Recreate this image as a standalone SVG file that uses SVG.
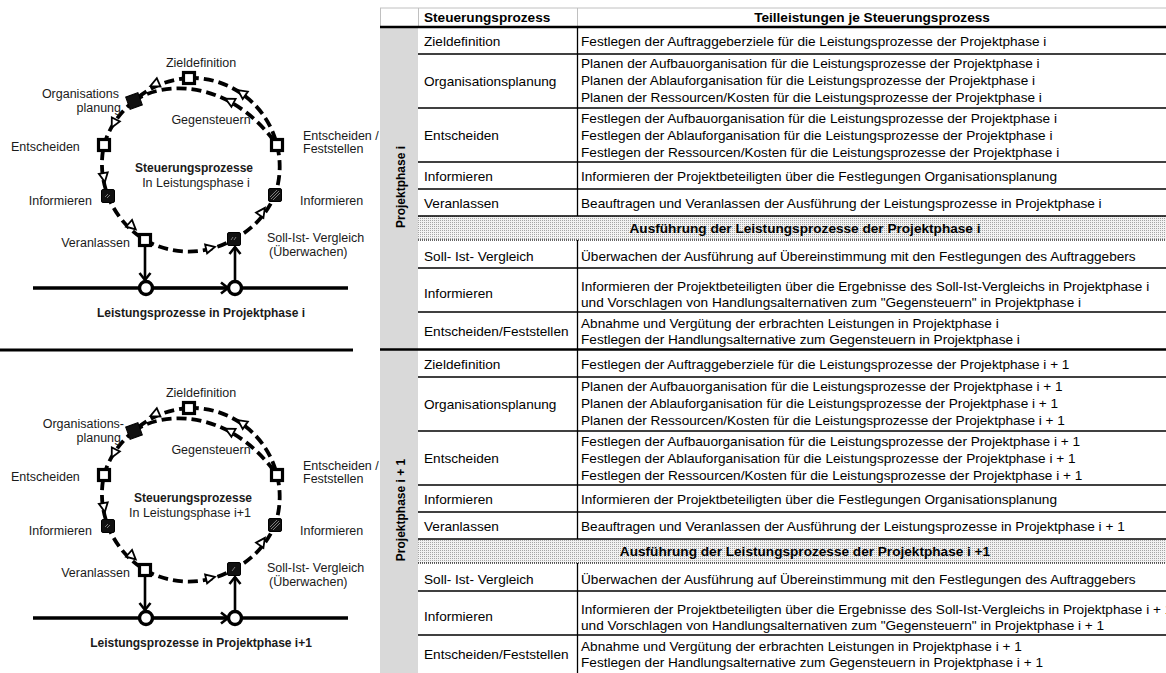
<svg xmlns="http://www.w3.org/2000/svg" xmlns:xlink="http://www.w3.org/1999/xlink" width="1166" height="673" viewBox="0 0 1166 673">
  <style>
    .lbl { font-family: "Liberation Sans", Arial, sans-serif; font-size: 12.5px; fill: #1a1a1a; }
    .lblb { font-family: "Liberation Sans", Arial, sans-serif; font-size: 12px; font-weight: bold; fill: #1a1a1a; }
    .t { font-family: "Liberation Sans", Arial, sans-serif; font-size: 12px; fill: #000; }
    .tb { font-family: "Liberation Sans", Arial, sans-serif; font-size: 12px; font-weight: bold; fill: #000; }
    .mid { text-anchor: middle; }
    .end { text-anchor: end; }
    .dash { fill: none; stroke: #000; stroke-width: 3.8; stroke-dasharray: 10 5; }
    .solid { fill: none; stroke: #000; stroke-width: 2.6; }
    .box { fill: #fff; stroke: #000; stroke-width: 3.2; }
    .blk { fill: #111; stroke: #000; stroke-width: 1; }
    .mark { fill: none; stroke: #8a8a8a; stroke-width: 0.9; }
    .evt { fill: #fff; stroke: #000; stroke-width: 3.4; }
    .rule { stroke: #000; stroke-width: 1.3; }
    .thick { stroke: #000; stroke-width: 2.6; }
    .grid { stroke: #c0c0c0; stroke-width: 1; }
  </style>
  <defs>
    <pattern id="dots" width="2" height="2" patternUnits="userSpaceOnUse">
      <rect width="2" height="2" fill="#f2f2f2"/>
      <rect width="1" height="1" fill="#a6a6a6"/>
    </pattern>
    <marker id="chev" markerUnits="userSpaceOnUse" markerWidth="14" markerHeight="14" refX="11" refY="7" orient="auto" overflow="visible">
      <path d="M4,1.5 L11,7 L4,12.5" fill="none" stroke="#000" stroke-width="2.6"/>
    </marker>
    <path id="tri" d="M5,0 L-4,-4.5 L-4,4.5 Z" fill="#fff" stroke="#000" stroke-width="1.8"/>
  </defs>

  <rect width="1166" height="673" fill="#fff"/>

  <!-- ===== control cycle, project phase i ===== -->
  <g id="cycle-i">
    <g id="cycle-i-connectors">
      <path class="dash" d="M189,78 A88,88 0 0 0 134,101 A88,88 0 0 0 104,145 A88,88 0 0 0 108,196 A88,88 0 0 0 145,240 A88,88 0 0 0 234,239 A88,88 0 0 0 275,195 A88,88 0 0 0 277,145 A88,88 0 0 0 189,78"/>
      <path class="dash" d="M134,101 C160,82 228,76 277,145"/>
      <use xlink:href="#tri" href="#tri" transform="translate(155,84) rotate(156)"/>
      <use xlink:href="#tri" href="#tri" transform="translate(114,123) rotate(117)"/>
      <use xlink:href="#tri" href="#tri" transform="translate(104,177) rotate(80)"/>
      <use xlink:href="#tri" href="#tri" transform="translate(132,226) rotate(42)"/>
      <use xlink:href="#tri" href="#tri" transform="translate(210,248) rotate(-13)"/>
      <use xlink:href="#tri" href="#tri" transform="translate(262,212) rotate(-55)"/>
      <use xlink:href="#tri" href="#tri" transform="translate(242,93) rotate(-145)"/>
      <use xlink:href="#tri" href="#tri" transform="translate(230,101) rotate(-152)"/>
      <line class="solid" x1="33" y1="288" x2="348" y2="288" style="stroke-width:3.4"/>
      <path class="solid" d="M152,288 L228,288" marker-end="url(#chev)"/>
      <path class="solid" d="M145,247 L145,280" marker-end="url(#chev)"/>
      <path class="solid" d="M235,281 L235,247" marker-end="url(#chev)"/>
    </g>
    <g id="i-zieldefinition">
      <rect class="box" x="183.5" y="72.5" width="11" height="11"/>
      <text class="lbl mid" x="201" y="66.5">Zieldefinition</text>
    </g>
    <g id="i-organisationsplanung">
      <rect class="blk" x="127.5" y="94.5" width="13" height="13" transform="rotate(-20 134 101)"/>
      <text class="lbl end" x="119" y="97.5">Organisations</text>
      <text class="lbl end" x="121" y="111.5">planung</text>
    </g>
    <g id="i-entscheiden">
      <rect class="box" x="98.5" y="139.5" width="11" height="11"/>
      <text class="lbl" x="11" y="150.5">Entscheiden</text>
    </g>
    <g id="i-informieren-l">
      <rect class="blk" x="101.5" y="189.5" width="13" height="13" rx="1.5"/>
      <path class="mark" d="M105,197 L108,194 M107,198 L110,195"/>
      <text class="lbl end" x="92" y="204.5">Informieren</text>
    </g>
    <g id="i-veranlassen">
      <rect class="box" x="139.5" y="234.5" width="11" height="11"/>
      <text class="lbl end" x="130" y="246.5">Veranlassen</text>
    </g>
    <g id="i-soll-ist">
      <rect class="blk" x="227.5" y="232.5" width="13" height="13" rx="1.5"/>
      <path class="mark" d="M231,240 L233,237 M234,240 L236,237"/>
      <text class="lbl" x="267" y="241.5">Soll-Ist- Vergleich</text>
      <text class="lbl" x="269" y="255.5">(Überwachen)</text>
    </g>
    <g id="i-informieren-r">
      <rect class="blk" x="268.5" y="188.5" width="13" height="13" rx="1.5"/>
      <path class="mark" d="M271,199 L279,191 M273,200 L280,193 M270,197 L277,190"/>
      <text class="lbl" x="300" y="204.5">Informieren</text>
    </g>
    <g id="i-entscheiden-feststellen">
      <rect class="box" x="271.5" y="139.5" width="11" height="11"/>
      <text class="lbl" x="303" y="139.5">Entscheiden /</text>
      <text class="lbl" x="303" y="152.5">Feststellen</text>
    </g>
    <g id="i-gegensteuern">
      <text class="lbl mid" x="211" y="123.5">Gegensteuern</text>
    </g>
    <g id="i-title">
      <text class="lblb mid" x="194" y="171.5">Steuerungsprozesse</text>
      <text class="lbl mid" x="196" y="186.5">In Leistungsphase i</text>
    </g>
    <g id="i-event-1"><circle class="evt" cx="146" cy="288" r="6.5"/></g>
    <g id="i-event-2"><circle class="evt" cx="235" cy="288" r="6.5"/></g>
    <g id="i-leistung">
      <text class="lblb mid" x="201" y="317">Leistungsprozesse in Projektphase i</text>
    </g>
  </g>

  <line x1="0" y1="350" x2="353" y2="350" stroke="#000" stroke-width="3"/>

  <!-- ===== control cycle, project phase i+1 ===== -->
  <g id="cycle-i1" transform="translate(0,330)">
    <g id="cycle-i1-connectors">
      <path class="dash" d="M189,78 A88,88 0 0 0 134,101 A88,88 0 0 0 104,145 A88,88 0 0 0 108,196 A88,88 0 0 0 145,240 A88,88 0 0 0 234,239 A88,88 0 0 0 275,195 A88,88 0 0 0 277,145 A88,88 0 0 0 189,78"/>
      <path class="dash" d="M134,101 C160,82 228,76 277,145"/>
      <use xlink:href="#tri" href="#tri" transform="translate(155,84) rotate(156)"/>
      <use xlink:href="#tri" href="#tri" transform="translate(114,123) rotate(117)"/>
      <use xlink:href="#tri" href="#tri" transform="translate(104,177) rotate(80)"/>
      <use xlink:href="#tri" href="#tri" transform="translate(132,226) rotate(42)"/>
      <use xlink:href="#tri" href="#tri" transform="translate(210,248) rotate(-13)"/>
      <use xlink:href="#tri" href="#tri" transform="translate(262,212) rotate(-55)"/>
      <use xlink:href="#tri" href="#tri" transform="translate(242,93) rotate(-145)"/>
      <use xlink:href="#tri" href="#tri" transform="translate(230,101) rotate(-152)"/>
      <line class="solid" x1="33" y1="288" x2="348" y2="288" style="stroke-width:3.4"/>
      <path class="solid" d="M152,288 L228,288" marker-end="url(#chev)"/>
      <path class="solid" d="M145,247 L145,280" marker-end="url(#chev)"/>
      <path class="solid" d="M235,281 L235,247" marker-end="url(#chev)"/>
    </g>
    <g id="i1-zieldefinition">
      <rect class="box" x="183.5" y="72.5" width="11" height="11"/>
      <text class="lbl mid" x="201" y="66.5">Zieldefinition</text>
    </g>
    <g id="i1-organisationsplanung">
      <text class="lbl end" x="124" y="97.5">Organisations-</text>
      <text class="lbl end" x="121" y="111.5">planung</text>
      <rect class="blk" x="127.5" y="94.5" width="13" height="13" transform="rotate(-20 134 101)"/>
    </g>
    <g id="i1-entscheiden">
      <rect class="box" x="98.5" y="139.5" width="11" height="11"/>
      <text class="lbl" x="11" y="150.5">Entscheiden</text>
    </g>
    <g id="i1-informieren-l">
      <rect class="blk" x="101.5" y="189.5" width="13" height="13" rx="1.5"/>
      <path class="mark" d="M105,197 L108,194 M107,198 L110,195"/>
      <text class="lbl end" x="92" y="204.5">Informieren</text>
    </g>
    <g id="i1-veranlassen">
      <rect class="box" x="139.5" y="234.5" width="11" height="11"/>
      <text class="lbl end" x="130" y="246.5">Veranlassen</text>
    </g>
    <g id="i1-soll-ist">
      <rect class="blk" x="227.5" y="232.5" width="13" height="13" rx="1.5"/>
      <path class="mark" d="M232,241 L235,237"/>
      <text class="lbl" x="267" y="241.5">Soll-Ist- Vergleich</text>
      <text class="lbl" x="269" y="255.5">(Überwachen)</text>
    </g>
    <g id="i1-informieren-r">
      <rect class="blk" x="268.5" y="188.5" width="13" height="13" rx="1.5"/>
      <path class="mark" d="M271,199 L279,191 M273,200 L280,193 M270,197 L277,190"/>
      <text class="lbl" x="300" y="204.5">Informieren</text>
    </g>
    <g id="i1-entscheiden-feststellen">
      <rect class="box" x="271.5" y="139.5" width="11" height="11"/>
      <text class="lbl" x="303" y="139.5">Entscheiden /</text>
      <text class="lbl" x="303" y="152.5">Feststellen</text>
    </g>
    <g id="i1-gegensteuern">
      <text class="lbl mid" x="211" y="123.5">Gegensteuern</text>
    </g>
    <g id="i1-title">
      <text class="lblb mid" x="193" y="171.5">Steuerungsprozesse</text>
      <text class="lbl mid" x="190" y="186.5">In Leistungsphase i+1</text>
    </g>
    <g id="i1-event-1"><circle class="evt" cx="146" cy="288" r="6.5"/></g>
    <g id="i1-event-2"><circle class="evt" cx="235" cy="288" r="6.5"/></g>
    <g id="i1-leistung">
      <text class="lblb mid" x="201" y="317">Leistungsprozesse in Projektphase i+1</text>
    </g>
  </g>

  <!-- ===== table of control processes ===== -->
  <g id="table">
    <!-- phase column and execution bands -->
    <rect x="380" y="27" width="38" height="646" fill="#d9d9d9"/>
    <rect x="418" y="216" width="748" height="24" fill="url(#dots)"/>
    <rect x="418" y="539" width="748" height="24" fill="url(#dots)"/>

    <!-- header grid -->
    <line class="grid" x1="380" y1="8" x2="1166" y2="8"/>
    <line class="grid" x1="380.5" y1="8" x2="380.5" y2="27"/>
    <line class="grid" x1="418.5" y1="8" x2="418.5" y2="27"/>
    <line class="grid" x1="577.5" y1="8" x2="577.5" y2="27"/>

    <!-- column divider -->
    <line class="rule" x1="577.5" y1="27" x2="577.5" y2="216"/>
    <line class="rule" x1="577.5" y1="240" x2="577.5" y2="539"/>
    <line class="rule" x1="577.5" y1="563" x2="577.5" y2="673"/>

    <!-- row rules -->
    <line class="thick" x1="380" y1="27" x2="1166" y2="27"/>
    <line class="rule" x1="418" y1="54" x2="1166" y2="54"/>
    <line class="rule" x1="418" y1="108" x2="1166" y2="108"/>
    <line class="rule" x1="418" y1="162" x2="1166" y2="162"/>
    <line class="rule" x1="418" y1="189" x2="1166" y2="189"/>
    <line class="rule" x1="418" y1="216" x2="1166" y2="216"/>
    <line x1="418" y1="240" x2="1166" y2="240" stroke="#333" stroke-width="1.3" stroke-dasharray="1 1"/>
    <line class="rule" x1="418" y1="268" x2="1166" y2="268"/>
    <line class="rule" x1="418" y1="312" x2="1166" y2="312"/>
    <line class="thick" x1="380" y1="349.5" x2="1166" y2="349.5"/>
    <line class="rule" x1="418" y1="377" x2="1166" y2="377"/>
    <line class="rule" x1="418" y1="431" x2="1166" y2="431"/>
    <line class="rule" x1="418" y1="485" x2="1166" y2="485"/>
    <line class="rule" x1="418" y1="512" x2="1166" y2="512"/>
    <line class="rule" x1="418" y1="539" x2="1166" y2="539"/>
    <line x1="418" y1="563" x2="1166" y2="563" stroke="#333" stroke-width="1.3" stroke-dasharray="1 1"/>
    <line class="rule" x1="418" y1="591" x2="1166" y2="591"/>
    <line class="rule" x1="418" y1="635" x2="1166" y2="635"/>

    <!-- header -->
    <text class="tb" transform="translate(424,21.5) scale(1.135,1)">Steuerungsprozess</text>
    <text class="tb mid" transform="translate(872,21.5) scale(1.135,1)">Teilleistungen je Steuerungsprozess</text>

    <!-- phase labels -->
    <text class="tb mid" transform="translate(405,187) rotate(-90) scale(1,1.135)">Projektphase i</text>
    <text class="tb mid" transform="translate(405,510) rotate(-90) scale(1,1.135)">Projektphase i + 1</text>

    <!-- phase i -->
    <g id="row-i-zieldefinition">
      <text class="t" transform="translate(424,46) scale(1.135,1)">Zieldefinition</text>
      <text class="t" transform="translate(581,46) scale(1.135,1)">Festlegen der Auftraggeberziele für die Leistungsprozesse der Projektphase i</text>
    </g>
    <g id="row-i-organisationsplanung">
      <text class="t" transform="translate(424,85.5) scale(1.135,1)">Organisationsplanung</text>
      <text class="t" transform="translate(581,67.5) scale(1.135,1)">Planen der Aufbauorganisation für die Leistungsprozesse der Projektphase i</text>
      <text class="t" transform="translate(581,84.5) scale(1.135,1)">Planen der Ablauforganisation für die Leistungsprozesse der Projektphase i</text>
      <text class="t" transform="translate(581,101.5) scale(1.135,1)">Planen der Ressourcen/Kosten für die Leistungsprozesse der Projektphase i</text>
    </g>
    <g id="row-i-entscheiden">
      <text class="t" transform="translate(424,139.5) scale(1.135,1)">Entscheiden</text>
      <text class="t" transform="translate(581,122.5) scale(1.135,1)">Festlegen der Aufbauorganisation für die Leistungsprozesse der Projektphase i</text>
      <text class="t" transform="translate(581,139.5) scale(1.135,1)">Festlegen der Ablauforganisation für die Leistungsprozesse der Projektphase i</text>
      <text class="t" transform="translate(581,156.5) scale(1.135,1)">Festlegen der Ressourcen/Kosten für die Leistungsprozesse der Projektphase i</text>
    </g>
    <g id="row-i-informieren">
      <text class="t" transform="translate(424,180.5) scale(1.135,1)">Informieren</text>
      <text class="t" transform="translate(581,180.5) scale(1.135,1)">Informieren der Projektbeteiligten über die Festlegungen Organisationsplanung</text>
    </g>
    <g id="row-i-veranlassen">
      <text class="t" transform="translate(424,207.5) scale(1.135,1)">Veranlassen</text>
      <text class="t" transform="translate(581,207.5) scale(1.135,1)">Beauftragen und Veranlassen der Ausführung der Leistungsprozesse in Projektphase i</text>
    </g>
    <g id="row-i-ausfuehrung">
      <text class="tb mid" transform="translate(805,233) scale(1.135,1)">Ausführung der Leistungsprozesse der Projektphase i</text>
    </g>
    <g id="row-i-soll-ist">
      <text class="t" transform="translate(424,260.5) scale(1.135,1)">Soll- Ist- Vergleich</text>
      <text class="t" transform="translate(581,260.5) scale(1.135,1)">Überwachen der Ausführung auf Übereinstimmung mit den Festlegungen des Auftraggebers</text>
    </g>
    <g id="row-i-informieren-2">
      <text class="t" transform="translate(424,298) scale(1.135,1)">Informieren</text>
      <text class="t" transform="translate(581,290.5) scale(1.135,1)">Informieren der Projektbeteiligten über die Ergebnisse des Soll-Ist-Vergleichs in Projektphase i</text>
      <text class="t" transform="translate(581,306.5) scale(1.135,1)">und Vorschlagen von Handlungsalternativen zum "Gegensteuern" in Projektphase i</text>
    </g>
    <g id="row-i-entscheiden-feststellen">
      <text class="t" transform="translate(424,335.5) scale(1.135,1)">Entscheiden/Feststellen</text>
      <text class="t" transform="translate(581,327.5) scale(1.135,1)">Abnahme und Vergütung der erbrachten Leistungen in Projektphase i</text>
      <text class="t" transform="translate(581,343.5) scale(1.135,1)">Festlegen der Handlungsalternative zum Gegensteuern in Projektphase i</text>
    </g>

    <!-- phase i + 1 -->
    <g id="row-i1-zieldefinition">
      <text class="t" transform="translate(424,369) scale(1.135,1)">Zieldefinition</text>
      <text class="t" transform="translate(581,369) scale(1.135,1)">Festlegen der Auftraggeberziele für die Leistungsprozesse der Projektphase i + 1</text>
    </g>
    <g id="row-i1-organisationsplanung">
      <text class="t" transform="translate(424,408.5) scale(1.135,1)">Organisationsplanung</text>
      <text class="t" transform="translate(581,390.5) scale(1.135,1)">Planen der Aufbauorganisation für die Leistungsprozesse der Projektphase i + 1</text>
      <text class="t" transform="translate(581,407.5) scale(1.135,1)">Planen der Ablauforganisation für die Leistungsprozesse der Projektphase i + 1</text>
      <text class="t" transform="translate(581,424.5) scale(1.135,1)">Planen der Ressourcen/Kosten für die Leistungsprozesse der Projektphase i + 1</text>
    </g>
    <g id="row-i1-entscheiden">
      <text class="t" transform="translate(424,462.5) scale(1.135,1)">Entscheiden</text>
      <text class="t" transform="translate(581,445.5) scale(1.135,1)">Festlegen der Aufbauorganisation für die Leistungsprozesse der Projektphase i + 1</text>
      <text class="t" transform="translate(581,462.5) scale(1.135,1)">Festlegen der Ablauforganisation für die Leistungsprozesse der Projektphase i + 1</text>
      <text class="t" transform="translate(581,479.5) scale(1.135,1)">Festlegen der Ressourcen/Kosten für die Leistungsprozesse der Projektphase i + 1</text>
    </g>
    <g id="row-i1-informieren">
      <text class="t" transform="translate(424,503.5) scale(1.135,1)">Informieren</text>
      <text class="t" transform="translate(581,503.5) scale(1.135,1)">Informieren der Projektbeteiligten über die Festlegungen Organisationsplanung</text>
    </g>
    <g id="row-i1-veranlassen">
      <text class="t" transform="translate(424,530.5) scale(1.135,1)">Veranlassen</text>
      <text class="t" transform="translate(581,530.5) scale(1.135,1)">Beauftragen und Veranlassen der Ausführung der Leistungsprozesse in Projektphase i + 1</text>
    </g>
    <g id="row-i1-ausfuehrung">
      <text class="tb mid" transform="translate(805,556) scale(1.135,1)">Ausführung der Leistungsprozesse der Projektphase i +1</text>
    </g>
    <g id="row-i1-soll-ist">
      <text class="t" transform="translate(424,583.5) scale(1.135,1)">Soll- Ist- Vergleich</text>
      <text class="t" transform="translate(581,583.5) scale(1.135,1)">Überwachen der Ausführung auf Übereinstimmung mit den Festlegungen des Auftraggebers</text>
    </g>
    <g id="row-i1-informieren-2">
      <text class="t" transform="translate(424,621) scale(1.135,1)">Informieren</text>
      <text class="t" transform="translate(581,613.5) scale(1.135,1)">Informieren der Projektbeteiligten über die Ergebnisse des Soll-Ist-Vergleichs in Projektphase i + 1</text>
      <text class="t" transform="translate(581,629.5) scale(1.135,1)">und Vorschlagen von Handlungsalternativen zum "Gegensteuern" in Projektphase i + 1</text>
    </g>
    <g id="row-i1-entscheiden-feststellen">
      <text class="t" transform="translate(424,658.5) scale(1.135,1)">Entscheiden/Feststellen</text>
      <text class="t" transform="translate(581,650.5) scale(1.135,1)">Abnahme und Vergütung der erbrachten Leistungen in Projektphase i + 1</text>
      <text class="t" transform="translate(581,666.5) scale(1.135,1)">Festlegen der Handlungsalternative zum Gegensteuern in Projektphase i + 1</text>
    </g>
  </g>
</svg>
